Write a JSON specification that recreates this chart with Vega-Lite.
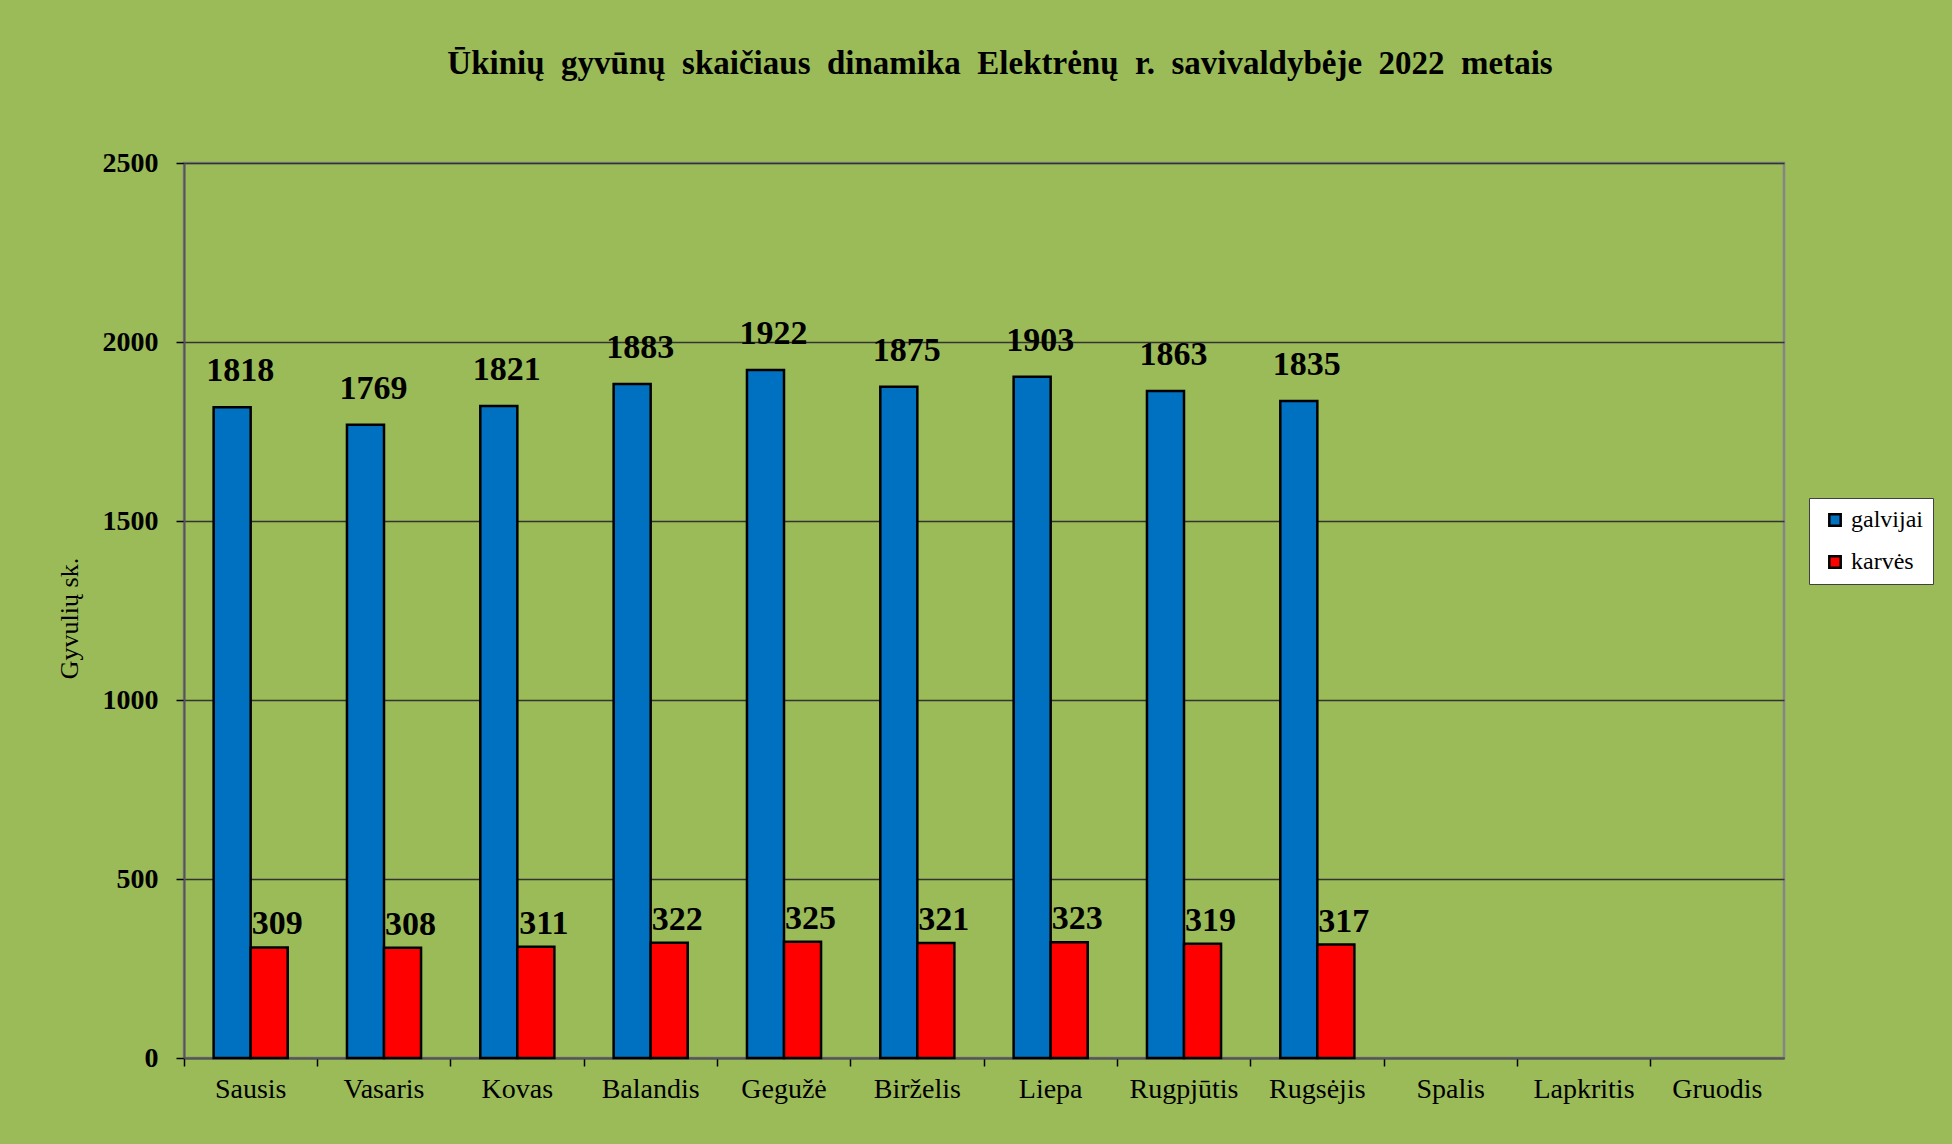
{
  "$schema": "https://vega.github.io/schema/vega-lite/v6.json",
  "autosize": {"type": "none"},
  "width": 1600,
  "height": 895,
  "padding": {"left": 184, "top": 163, "right": 168, "bottom": 86},
  "background": "#9BBB59",
  "title": {
    "text": "Ūkinių\u2002gyvūnų\u2002skaičiaus\u2002dinamika\u2002Elektrėnų\u2002r.\u2002savivaldybėje\u20022022\u2002metais",
    "font": "Liberation Serif",
    "fontSize": 33,
    "fontWeight": "bold",
    "color": "#000000",
    "anchor": "middle",
    "frame": "group",
    "baseline": "alphabetic",
    "offset": 42,
    "dx": 16
  },
  "config": {
    "view": {"stroke": "#858585", "strokeWidth": 2.5},
    "axis": {
      "labelFont": "Liberation Serif",
      "titleFont": "Liberation Serif",
      "labelColor": "#000000",
      "titleColor": "#000000",
      "tickColor": "#000000",
      "tickWidth": 1.5,
      "tickSize": 8
    },
    "legend": {
      "labelFont": "Liberation Serif"
    }
  },
  "data": {
    "values": [
      {"month": "Sausis", "series": "galvijai", "value": 1818},
      {"month": "Sausis", "series": "karvės", "value": 309},
      {"month": "Vasaris", "series": "galvijai", "value": 1769},
      {"month": "Vasaris", "series": "karvės", "value": 308},
      {"month": "Kovas", "series": "galvijai", "value": 1821},
      {"month": "Kovas", "series": "karvės", "value": 311},
      {"month": "Balandis", "series": "galvijai", "value": 1883},
      {"month": "Balandis", "series": "karvės", "value": 322},
      {"month": "Gegužė", "series": "galvijai", "value": 1922},
      {"month": "Gegužė", "series": "karvės", "value": 325},
      {"month": "Birželis", "series": "galvijai", "value": 1875},
      {"month": "Birželis", "series": "karvės", "value": 321},
      {"month": "Liepa", "series": "galvijai", "value": 1903},
      {"month": "Liepa", "series": "karvės", "value": 323},
      {"month": "Rugpjūtis", "series": "galvijai", "value": 1863},
      {"month": "Rugpjūtis", "series": "karvės", "value": 319},
      {"month": "Rugsėjis", "series": "galvijai", "value": 1835},
      {"month": "Rugsėjis", "series": "karvės", "value": 317}
    ]
  },
  "encoding": {
    "x": {
      "field": "month",
      "type": "nominal",
      "scale": {
        "domain": ["Sausis", "Vasaris", "Kovas", "Balandis", "Gegužė", "Birželis", "Liepa", "Rugpjūtis", "Rugsėjis", "Spalis", "Lapkritis", "Gruodis"],
        "paddingInner": 0,
        "paddingOuter": 0
      },
      "axis": {
        "title": null,
        "labelAngle": 0,
        "labelFontSize": 28,
        "labelPadding": 9,
        "bandPosition": 0,
        "domainColor": "#555555",
        "domainWidth": 2,
        "grid": false
      }
    },
    "xOffset": {
      "field": "series",
      "type": "nominal",
      "scale": {"domain": ["galvijai", "karvės"], "paddingOuter": 0.8, "paddingInner": 0}
    },
    "y": {
      "field": "value",
      "type": "quantitative",
      "scale": {"domain": [0, 2500], "nice": false},
      "axis": {
        "title": "Gyvulių sk.",
        "titleFontSize": 26,
        "titleFontWeight": "normal",
        "titlePadding": 20,
        "titleY": 455,
        "values": [0, 500, 1000, 1500, 2000, 2500],
        "format": "d",
        "labelFontSize": 28,
        "labelFontWeight": "bold",
        "labelPadding": 18,
        "domainColor": "#555555",
        "domainWidth": 2,
        "grid": true,
        "gridColor": "#333333",
        "gridWidth": 1.5
      }
    }
  },
  "layer": [
    {
      "mark": {"type": "bar", "stroke": "#000000", "strokeWidth": 2.5},
      "encoding": {
        "color": {
          "field": "series",
          "type": "nominal",
          "scale": {"domain": ["galvijai", "karvės"], "range": ["#0070C0", "#FF0000"]},
          "legend": {
            "title": null,
            "orient": "none",
            "legendX": 1625,
            "legendY": 335,
            "fillColor": "#FFFFFF",
            "strokeColor": "#404040",
            "padding": 10,
            "rowPadding": 18,
            "symbolType": "square",
            "symbolSize": 130,
            "symbolStrokeColor": "#000000",
            "symbolStrokeWidth": 2.5,
            "symbolOffset": 4,
            "labelFontSize": 24,
            "labelOffset": 4,
            "labelColor": "#000000"
          }
        }
      }
    },
    {
      "transform": [{"filter": "datum.series == 'galvijai'"}],
      "mark": {"type": "text", "font": "Liberation Serif", "fontSize": 34, "fontWeight": "bold", "color": "#000000", "baseline": "alphabetic", "dy": -26, "dx": 8},
      "encoding": {"text": {"field": "value", "type": "quantitative"}}
    },
    {
      "transform": [{"filter": "datum.series == 'karvės'"}],
      "mark": {"type": "text", "font": "Liberation Serif", "fontSize": 34, "fontWeight": "bold", "color": "#000000", "baseline": "alphabetic", "dy": -13, "dx": 8},
      "encoding": {"text": {"field": "value", "type": "quantitative"}}
    }
  ]
}
